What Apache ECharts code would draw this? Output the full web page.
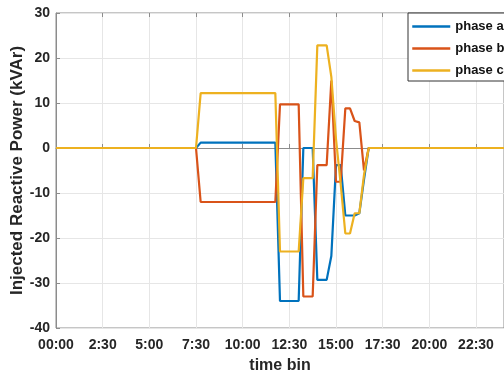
<!DOCTYPE html>
<html>
<head>
<meta charset="utf-8">
<script src="https://cdn.jsdelivr.net/npm/echarts@6/dist/echarts.min.js"></script>
<style>
  html, body { margin: 0; padding: 0; background: #fff; }
  #chart { width: 504px; height: 371px; }
</style>
</head>
<body>
<div id="chart"></div>
<script>
// time in minutes since 00:00 (15 min bins where the curves change)
var times = [0, 450, 465, 705, 720, 780, 795, 825, 840, 870, 885, 900, 915, 930, 945, 960, 975, 990, 1005, 1440];
var phaseA = [0, 0, 1.2, 1.2, -34, -34, 0, 0, -29.3, -29.3, -24, -3.8, -3.8, -15, -15, -15, -14.5, -7, 0, 0];
var phaseB = [0, 0, -12, -12, 9.7, 9.7, -33, -33, -3.8, -3.8, 15, -7.5, -7.5, 8.8, 8.8, 6, 5.7, -5, 0, 0];
var phaseC = [0, 0, 12.2, 12.2, -23, -23, -6.7, -6.7, 22.8, 22.8, 15.8, 2, -8, -19, -19, -14.5, -14.5, -6, 0, 0];
var xTickLabels = ['00:00', '2:30', '5:00', '7:30', '10:00', '12:30', '15:00', '17:30', '20:00', '22:30'];

function pairs(vals) {
  return times.map(function (t, i) { return [t, vals[i]]; });
}

var axisGray = '#8c8c8c';
var labelColor = '#262626';
var font = 'Liberation Sans, Arial, sans-serif';

var chart = echarts.init(document.getElementById('chart'));
chart.setOption({
  animation: false,
  backgroundColor: '#fff',
  grid: {
    left: 56, top: 13, right: 0, bottom: 43,
    outerBoundsMode: 'none', containLabel: false,
    show: true, borderColor: axisGray, borderWidth: 1, backgroundColor: '#fff'
  },
  legend: {
    orient: 'vertical',
    left: 408, top: 13,
    padding: [7, 30, 4, 3],
    itemWidth: 38, itemHeight: 14, itemGap: 9,
    backgroundColor: '#fff',
    borderColor: '#333', borderWidth: 1,
    itemStyle: { opacity: 0 },
    lineStyle: { width: 2.5 },
    textStyle: { fontFamily: font, fontWeight: 'bold', fontSize: 13, color: '#111' },
    data: ['phase a', 'phase b', 'phase c']
  },
  xAxis: [{
    type: 'value', min: 0, max: 1440, interval: 150,
    name: 'time bin', nameLocation: 'middle', nameGap: 30, nameMoveOverlap: false,
    nameTextStyle: { fontFamily: font, fontWeight: 'bold', fontSize: 16, color: labelColor },
    axisLine: { lineStyle: { color: axisGray } },
    axisTick: { inside: true, length: 4, lineStyle: { color: axisGray } },
    axisLabel: {
      margin: 10, showMaxLabel: false,
      fontFamily: font, fontWeight: 'bold', fontSize: 14, color: labelColor,
      formatter: function (v) { return xTickLabels[Math.round(v / 150)] || ''; }
    },
    splitLine: { show: true, lineStyle: { color: '#e6e6e6' } }
  }, {
    type: 'value', min: 0, max: 1440, interval: 150, position: 'top',
    axisLine: { show: false },
    axisTick: { inside: true, length: 4, lineStyle: { color: axisGray } },
    axisLabel: { show: false },
    splitLine: { show: false }
  }],
  yAxis: {
    type: 'value', min: -40, max: 30, interval: 10,
    name: 'Injected Reactive Power (kVAr)', nameLocation: 'middle', nameGap: 30, nameMoveOverlap: false,
    nameTextStyle: { fontFamily: font, fontWeight: 'bold', fontSize: 17, color: labelColor },
    axisLine: { show: true, lineStyle: { color: axisGray } },
    axisTick: { show: true, inside: true, length: 4, lineStyle: { color: axisGray } },
    axisLabel: { margin: 6, fontFamily: font, fontWeight: 'bold', fontSize: 14, color: labelColor },
    splitLine: { show: true, lineStyle: { color: '#e6e6e6' } }
  },
  series: [{
    name: 'phase a', type: 'line', data: pairs(phaseA), symbol: 'none',
    lineStyle: { width: 2.2, color: '#0072BD' }, itemStyle: { color: '#0072BD' }
  }, {
    name: 'phase b', type: 'line', data: pairs(phaseB), symbol: 'none',
    lineStyle: { width: 2.2, color: '#D95319' }, itemStyle: { color: '#D95319' }
  }, {
    name: 'phase c', type: 'line', data: pairs(phaseC), symbol: 'none',
    lineStyle: { width: 2.2, color: '#EDB120' }, itemStyle: { color: '#EDB120' }
  }]
});
</script>
</body>
</html>
